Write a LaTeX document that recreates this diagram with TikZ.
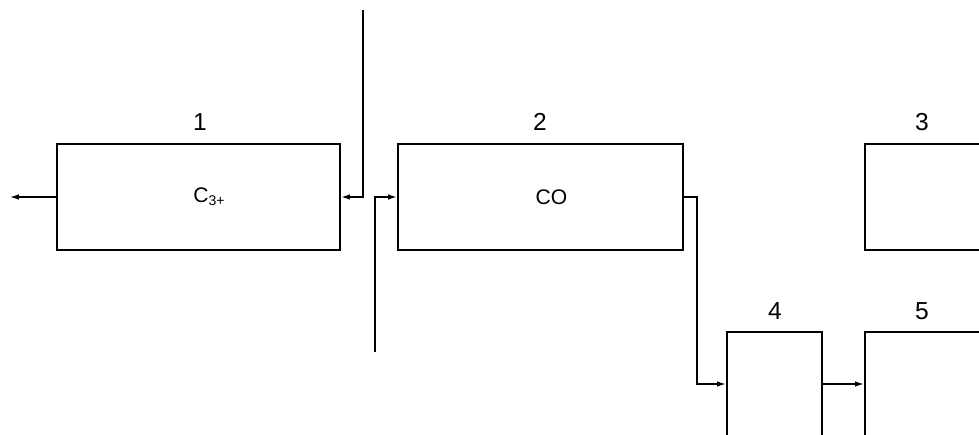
\documentclass[tikz,border=0pt]{standalone}
\usepackage{fontspec}
\setmainfont{Liberation Sans}
\usetikzlibrary{arrows,arrows.meta}
\usetikzlibrary{calc}
\tikzset{>={Latex[length=5pt,width=3.2pt]}}
\tikzstyle{unit} = [draw, rectangle, line width = 1.4, inner sep = 0pt, font = \fontsize{12}{14}\selectfont]
\tikzstyle{flow} = [line width = 0.8, ->]
\tikzstyle{num} = [font = \fontsize{14}{16}\selectfont, inner sep = 0pt]

\begin{document}
\begin{tikzpicture}[x=0.02cm, y=-0.02cm]
	
	% Frame
	\clip (0,0) rectangle (979,435);
	
	% Units
	\node[unit, minimum width=5.66cm, minimum height=2.12cm] (b1) at (198.5,197) {\hspace*{0.44cm}C\textsubscript{3+}};
	\node[unit, minimum width=5.70cm, minimum height=2.12cm] (b2) at (540.5,197) {\hspace*{0.44cm}CO};
	\node[unit, minimum width=6cm,    minimum height=2.12cm] (b3) at (1015,197) {};
	\node[unit, minimum width=1.90cm, minimum height=4cm]    (b4) at (774.5,432) {};
	\node[unit, minimum width=6cm,    minimum height=4cm]    (b5) at (1015,432) {};
	
	% Numbers
	\node[num] (n1) at (200,122) {1};
	\node[num] (n2) at (540,122) {2};
	\node[num] (n3) at (922,122) {3};
	\node[num] (n4) at (775,311) {4};
	\node[num] (n5) at (922,311) {5};
	
	% Coordinates
	\coordinate (out1) at (10,197);
	\coordinate (feedtop) at (363,10);
	\coordinate (feedbot) at (375,352);
	\coordinate (j4) at (697,384);
	
	% Streams
	\draw[flow] (b1.west) -- (out1);
	\draw[flow] (feedtop) |- (b1.east);
	\draw[flow] (feedbot) |- (b2.west);
	\draw[flow] (b2.east) -| (j4) -- (j4 -| b4.west);
	\draw[flow] (j4 -| b4.east) -- (j4 -| b5.west);

\end{tikzpicture}
\end{document}
